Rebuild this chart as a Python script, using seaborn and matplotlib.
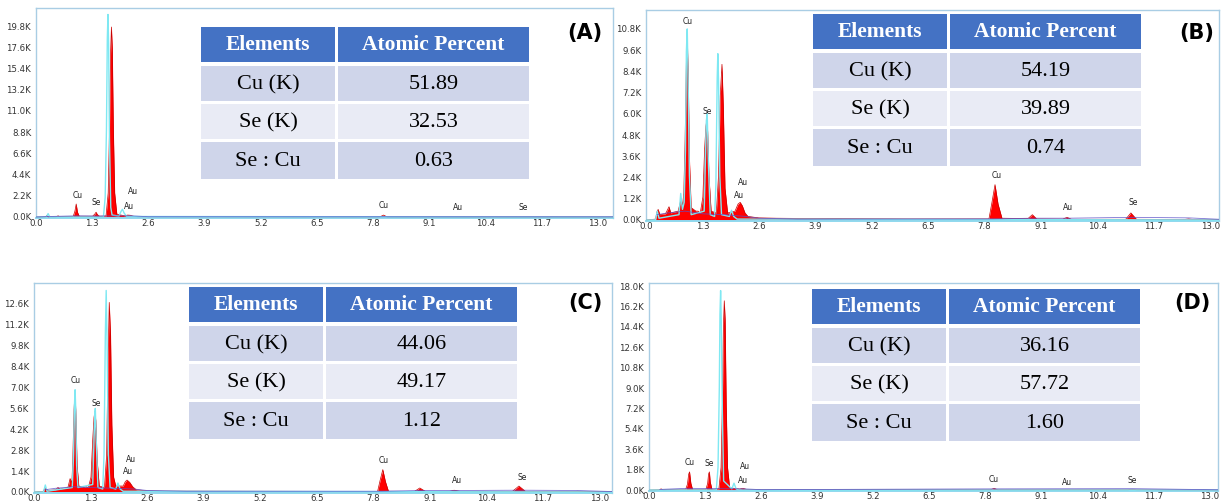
import matplotlib
matplotlib.use("Agg")
import matplotlib.pyplot as plt
from matplotlib.patches import Rectangle
import seaborn as sns

sns.set_theme(style="white")
plt.rcParams['font.family'] = ['DejaVu Sans']

W, H = 1221, 503

# ---------------- data (energy keV, counts in K) ----------------
x_ticks = [0.0, 1.3, 2.6, 3.9, 5.2, 6.5, 7.8, 9.1, 10.4, 11.7, 13.0]

# Panel A
yt_A = [0.0, 2.2, 4.4, 6.6, 8.8, 11.0, 13.2, 15.4, 17.6, 19.8]
redE_A = [0, 0.22, 0.25, 0.28, 0.47, 0.51, 0.55, 0.86, 0.90, 0.93, 0.96, 1.00, 1.31, 1.36, 1.39, 1.42, 1.47,
          1.62, 1.67, 1.70, 1.725, 1.745, 1.765, 1.79, 1.82, 1.87, 2.05, 2.12, 2.18, 2.25, 2.35,
          7.96, 8.04, 8.12, 13.4]
redC_A = [0, 0.02, 0.15, 0.02, 0.02, 0.12, 0.03, 0.05, 0.6, 1.35, 0.5, 0.08, 0.08, 0.3, 0.5, 0.25, 0.08,
          0.1, 2.5, 9.0, 17.0, 19.7, 17.5, 9.0, 2.5, 0.3, 0.12, 0.2, 0.18, 0.08, 0.03,
          0.02, 0.2, 0.02, 0.0]
cyE_A = [0, 0.24, 0.28, 0.32, 1.56, 1.60, 1.63, 1.65, 1.665, 1.68, 1.70, 1.73, 1.76,
         1.92, 1.97, 2.0, 2.04, 2.1, 13.4]
cyC_A = [0, 0, 0.35, 0, 0, 2.0, 9.0, 18.5, 21.0, 18.0, 8.0, 1.0, 0.2,
         0.1, 0.6, 0.8, 0.4, 0.05, 0.0]
bgE_A = [0.0, 0.3, 0.93, 1.4, 2.2, 2.6, 13.4]
bgC_A = [0.0, 0.05, 0.12, 0.1, 0.12, 0.03, 0.02]
labT_A = ["Cu", "Se", "Au", "Au", "Cu", "Au", "Se"]
labX_A = [0.97, 1.39, 2.25, 2.15, 8.04, 9.77, 11.27]
labY_A = [2.2, 1.55, 2.6, 1.1, 1.15, 0.95, 0.95]
rows_A = ["51.89", "32.53", "0.63"]

# Panel B
yt_B = [0.0, 1.2, 2.4, 3.6, 4.8, 6.0, 7.2, 8.4, 9.6, 10.8]
redE_B = [0, 0.22, 0.25, 0.28, 0.32, 0.45, 0.50, 0.53, 0.57, 0.74, 0.78, 0.81, 0.84,
          0.87, 0.90, 0.93, 0.95, 0.97, 1.00, 1.04,
          1.15, 1.2, 1.25,
          1.31, 1.35, 1.38, 1.40, 1.42, 1.45, 1.50,
          1.62, 1.67, 1.71, 1.75, 1.78, 1.82, 1.88,
          2.05, 2.12, 2.17, 2.22, 2.28, 2.35, 2.6, 3.0, 4.0, 6.0,
          7.9, 7.97, 8.04, 8.11, 8.2, 8.8, 8.9, 9.0,
          9.6, 9.7, 9.8, 11.05, 11.17, 11.3, 12.4, 12.5, 12.6, 13.3]
redC_B = [0, 0.05, 0.45, 0.6, 0.3, 0.35, 0.6, 0.75, 0.4, 0.5, 0.9, 1.2, 0.8,
          1.5, 4.5, 9.0, 10.3, 8.5, 3.5, 0.7,
          0.5, 0.5, 0.4,
          1.3, 4.0, 5.3, 5.65, 5.0, 2.5, 0.5,
          0.4, 2.5, 7.0, 8.8, 6.5, 1.8, 0.4,
          0.5, 0.9, 1.0, 0.8, 0.4, 0.2, 0.12, 0.1, 0.08, 0.06,
          0.06, 1.0, 2.0, 0.9, 0.1, 0.08, 0.3, 0.06,
          0.05, 0.15, 0.04, 0.04, 0.4, 0.04, 0.03, 0.06, 0.03, 0.02]
cyE_B = [0, 0.22, 0.26, 0.3, 0.76, 0.8, 0.84, 0.88, 0.91, 0.93, 0.95, 0.97, 1.00, 1.04,
         1.34, 1.37, 1.39, 1.41, 1.44, 1.48,
         1.58, 1.61, 1.64, 1.655, 1.67, 1.70, 1.74, 1.92, 1.97, 2.02, 2.1, 13.3]
cyC_B = [0, 0, 0.5, 0.1, 0.3, 1.5, 0.6, 1.0, 4.0, 9.5, 10.8, 8.0, 2.5, 0.3,
         0.5, 3.5, 5.6, 6.0, 3.0, 0.3,
         0.2, 2.0, 8.0, 9.4, 8.0, 2.5, 0.3, 0.2, 0.55, 0.2, 0.05, 0.0]
bgE_B = [0.25, 0.5, 0.9, 1.3, 1.8, 2.3, 2.6, 3.5, 8.0, 8.9, 9.7, 11.2, 12.5, 13.3]
bgC_B = [0.3, 0.4, 0.5, 0.35, 0.3, 0.2, 0.1, 0.05, 0.06, 0.1, 0.1, 0.15, 0.12, 0.03]
labT_B = ["Cu", "Se", "Au", "Au", "Cu", "Au", "Se"]
labX_B = [0.97, 1.40, 2.23, 2.15, 8.08, 9.72, 11.22]
labY_B = [11.2, 6.15, 2.1, 1.4, 2.5, 0.68, 1.0]
rows_B = ["54.19", "39.89", "0.74"]

# Panel C
yt_C = [0.0, 1.4, 2.8, 4.2, 5.6, 7.0, 8.4, 9.8, 11.2, 12.6]
redE_C = [0, 0.22, 0.25, 0.28, 0.32, 0.5, 0.55, 0.6, 0.78, 0.83, 0.87,
          0.89, 0.92, 0.94, 0.96, 0.99, 1.03,
          1.15, 1.2, 1.25,
          1.31, 1.35, 1.38, 1.40, 1.42, 1.45, 1.50,
          1.62, 1.67, 1.70, 1.73, 1.76, 1.79, 1.83, 1.88,
          2.05, 2.1, 2.14, 2.2, 2.27, 2.35, 2.6, 3.0, 5.0,
          7.9, 7.96, 8.02, 8.08, 8.15, 8.75, 8.87, 9.0, 9.55, 9.66, 9.8,
          11.0, 11.15, 11.3, 12.4, 12.5, 12.6, 13.3]
redC_C = [0, 0.05, 0.3, 0.2, 0.1, 0.15, 0.3, 0.2, 0.3, 0.9, 0.6,
          2.0, 5.5, 6.6, 5.5, 1.8, 0.4,
          0.3, 0.35, 0.3,
          1.0, 3.5, 5.0, 5.4, 4.8, 2.2, 0.4,
          0.3, 2.5, 8.5, 12.7, 10.5, 4.5, 1.0, 0.4,
          0.4, 0.7, 0.8, 0.65, 0.35, 0.15, 0.08, 0.06, 0.05,
          0.04, 0.8, 1.5, 0.7, 0.05, 0.04, 0.27, 0.04, 0.04, 0.12, 0.04,
          0.04, 0.4, 0.04, 0.03, 0.05, 0.03, 0.02]
cyE_C = [0, 0.22, 0.26, 0.3, 0.88, 0.91, 0.93, 0.945, 0.96, 0.98, 1.01,
         1.35, 1.38, 1.40, 1.41, 1.43, 1.47,
         1.58, 1.61, 1.64, 1.66, 1.68, 1.71, 1.75, 1.88, 1.93, 1.98, 2.05, 13.3]
cyC_C = [0, 0, 0.47, 0.05, 0.3, 2.5, 5.8, 6.85, 5.5, 1.8, 0.3,
         0.5, 3.5, 5.3, 5.6, 3.5, 0.3,
         0.2, 2.5, 10.5, 13.5, 10.0, 2.5, 0.3, 0.2, 0.6, 0.2, 0.05, 0.0]
bgE_C = [0.25, 0.5, 0.9, 1.3, 1.8, 2.3, 2.6, 3.5, 8.0, 8.9, 9.7, 11.2, 12.5, 13.3]
bgC_C = [0.15, 0.25, 0.35, 0.3, 0.25, 0.2, 0.1, 0.05, 0.05, 0.1, 0.1, 0.12, 0.1, 0.03]
labT_C = ["Cu", "Se", "Au", "Au", "Cu", "Au", "Se"]
labX_C = [0.97, 1.42, 2.23, 2.15, 8.05, 9.72, 11.22]
labY_C = [7.45, 5.9, 2.2, 1.35, 2.1, 0.75, 1.0]
rows_C = ["44.06", "49.17", "1.12"]

# Panel D
yt_D = [0.0, 1.8, 3.6, 5.4, 7.2, 9.0, 10.8, 12.6, 14.4, 16.2, 18.0]
redE_D = [0, 0.24, 0.28, 0.32, 0.85, 0.89, 0.92, 0.94, 0.97, 1.01,
          1.32, 1.36, 1.38, 1.40, 1.42, 1.46,
          1.62, 1.67, 1.70, 1.725, 1.745, 1.765, 1.79, 1.82, 1.87,
          2.1, 2.18, 2.26, 7.92, 8.0, 8.08, 11.1, 11.2, 11.3, 13.2]
redC_D = [0, 0.02, 0.1, 0.02, 0.05, 0.5, 1.4, 1.6, 0.6, 0.05,
          0.05, 0.6, 1.4, 1.6, 0.7, 0.05,
          0.1, 2.0, 7.5, 14.5, 16.7, 15.0, 7.5, 2.0, 0.2,
          0.08, 0.15, 0.05, 0.02, 0.15, 0.02, 0.02, 0.05, 0.02, 0.0]
cyE_D = [0, 1.56, 1.60, 1.63, 1.645, 1.66, 1.675, 1.70, 1.73, 1.92, 1.97, 2.02, 2.08, 13.2]
cyC_D = [0, 0, 2.0, 9.0, 15.5, 17.6, 15.0, 7.0, 0.8, 0.1, 0.6, 0.1, 0.0, 0.0]
bgE_D = [0.25, 0.9, 1.4, 2.2, 2.6, 8.0, 11.2, 13.2]
bgC_D = [0.05, 0.15, 0.12, 0.1, 0.03, 0.1, 0.12, 0.02]
labT_D = ["Cu", "Se", "Au", "Au", "Cu", "Au", "Se"]
labX_D = [0.95, 1.39, 2.23, 2.18, 8.0, 9.7, 11.2]
labY_D = [2.4, 2.3, 2.1, 0.8, 0.97, 0.7, 0.8]
rows_D = ["36.16", "57.72", "1.60"]

row_names = ["Cu (K)", "Se (K)", "Se : Cu"]
headers = ["Elements", "Atomic Percent"]
panel_names = ["(A)", "(B)", "(C)", "(D)"]

# ---------------- layout (pixels) ----------------
fig = plt.figure(figsize=(W / 100, H / 100), dpi=100)
fig.patch.set_facecolor("white")

SPINE = "#a9cde4"
RED = "#ff0000"
CYAN = "#7fe8f2"
BLUE = "#5a4fc8"


def px_axes(l, t, r, b):
    return fig.add_axes([l / W, 1 - b / H, (r - l) / W, (b - t) / H])


def draw_spectrum(box, ylim, xmax, yt, rE, rC, cE, cC, bE, bC, lT, lX, lY):
    ax = px_axes(*box)
    ax.fill_between(rE, rC, 0, color=RED, lw=0, zorder=2)
    sns.lineplot(x=rE, y=rC, ax=ax, color="#c80000", lw=0.5, estimator=None, sort=False, zorder=3)
    sns.lineplot(x=cE, y=cC, ax=ax, color=CYAN, lw=1.0, estimator=None, sort=False, zorder=4)
    sns.lineplot(x=bE, y=bC, ax=ax, color=BLUE, lw=0.6, alpha=0.8, estimator=None, sort=False, zorder=5)
    for t, x, y in zip(lT, lX, lY):
        ax.text(x, y, t, fontsize=5.5, color="#222222", ha="center", va="center", zorder=6)
    ax.set_xlim(0, xmax)
    ax.set_ylim(*ylim)
    ax.set_xticks(x_ticks)
    ax.set_xticklabels([f"{v:.1f}" for v in x_ticks])
    ax.set_yticks(yt)
    ax.set_yticklabels([f"{v:.1f}K" for v in yt])
    ax.tick_params(axis="both", labelsize=6.2, labelcolor="#333333", colors="#999999",
                   length=2, width=0.6, pad=1.5)
    ax.tick_params(axis="x", length=0, pad=1.0)
    ax.grid(False)
    ax.set_facecolor("white")
    for s in ax.spines.values():
        s.set_color(SPINE)
        s.set_linewidth(1.0)
    ax.spines["bottom"].set_color("#8fd8ee")
    ax.spines["bottom"].set_linewidth(1.4)
    ax.set_xlabel("")
    ax.set_ylabel("")
    return ax


def draw_table(l, t, vals):
    tw, th = 328, 152
    ax = px_axes(l, t, l + tw, t + th)
    ax.set_xlim(0, tw)
    ax.set_ylim(th, 0)
    ax.axis("off")
    c1, c2 = 134, 137
    ax.add_patch(Rectangle((0, 0), c1, 35, color="#4472c4", lw=0))
    ax.add_patch(Rectangle((c2, 0), tw - c2, 35, color="#4472c4", lw=0))
    ax.text(c1 / 2, 18, headers[0], ha="center", va="center", color="white",
            fontsize=15.5, fontweight="bold", family="Liberation Serif")
    ax.text((c2 + tw) / 2, 18, headers[1], ha="center", va="center", color="white",
            fontsize=15.5, fontweight="bold", family="Liberation Serif")
    row_y = [39, 77, 115]
    row_h = [35, 35, 37]
    row_c = ["#cfd5ea", "#e9ebf5", "#cfd5ea"]
    for name, v, y0, h0, col in zip(row_names, vals, row_y, row_h, row_c):
        ax.add_patch(Rectangle((0, y0), c1, h0, color=col, lw=0))
        ax.add_patch(Rectangle((c2, y0), tw - c2, h0, color=col, lw=0))
        ax.text(c1 / 2, y0 + h0 / 2 + 1, name, ha="center", va="center", color="black",
                fontsize=16, family="Liberation Serif")
        ax.text((c2 + tw) / 2, y0 + h0 / 2 + 1, v, ha="center", va="center", color="black",
                fontsize=16, family="Liberation Serif")


draw_spectrum((36, 8, 613, 218), (-0.104, 21.67), 13.35, yt_A,
              redE_A, redC_A, cyE_A, cyC_A, bgE_A, bgC_A, labT_A, labX_A, labY_A)
draw_spectrum((646, 10, 1219, 221), (-0.057, 11.87), 13.2, yt_B,
              redE_B, redC_B, cyE_B, cyC_B, bgE_B, bgC_B, labT_B, labX_B, labY_B)
draw_spectrum((34, 283, 612, 493), (-0.067, 14.0), 13.29, yt_C,
              redE_C, redC_C, cyE_C, cyC_C, bgE_C, bgC_C, labT_C, labX_C, labY_C)
draw_spectrum((649, 283, 1218, 491), (-0.088, 18.27), 13.19, yt_D,
              redE_D, redC_D, cyE_D, cyC_D, bgE_D, bgC_D, labT_D, labX_D, labY_D)

draw_table(201, 27, rows_A)
draw_table(813, 14, rows_B)
draw_table(189, 287, rows_C)
draw_table(812, 289, rows_D)

for name, (cx, cy) in zip(panel_names, [(585, 33), (1197, 33), (585, 303), (1192, 303)]):
    fig.text(cx / W, 1 - cy / H, name, ha="center", va="center", fontsize=15,
             fontweight="bold", color="black")

fig.savefig("out.png", dpi=100, facecolor="white")
